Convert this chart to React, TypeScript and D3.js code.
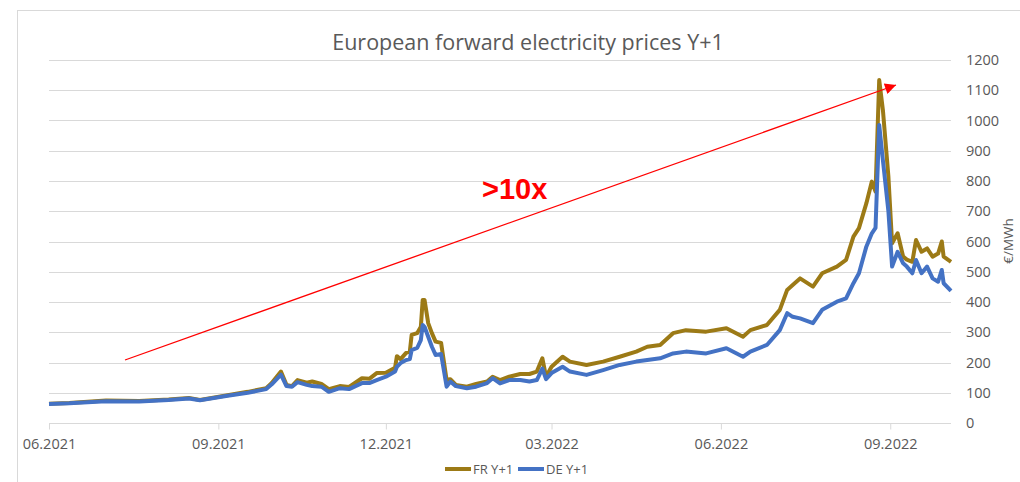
import React, { useEffect, useRef } from "react";
import * as d3 from "d3";

// dates of the readings (daily-ish where the curve moves, sparser where flat)
const dates = [
  "2021-06-01", "2021-06-12", "2021-07-02", "2021-07-20", "2021-08-05", "2021-08-16", "2021-08-22",
  "2021-09-06", "2021-09-17", "2021-09-27", "2021-09-30", "2021-10-05", "2021-10-08", "2021-10-11",
  "2021-10-14", "2021-10-19", "2021-10-22", "2021-10-27", "2021-10-31", "2021-11-06", "2021-11-11",
  "2021-11-18", "2021-11-22", "2021-11-26", "2021-12-01", "2021-12-06", "2021-12-07", "2021-12-09",
  "2021-12-12", "2021-12-14", "2021-12-15", "2021-12-18", "2021-12-20", "2021-12-21", "2021-12-22",
  "2021-12-24", "2021-12-26", "2021-12-28", "2021-12-31", "2022-01-03", "2022-01-05", "2022-01-08",
  "2022-01-14", "2022-01-19", "2022-01-25", "2022-01-28", "2022-02-01", "2022-02-06", "2022-02-12",
  "2022-02-17", "2022-02-21", "2022-02-24", "2022-02-26", "2022-03-01", "2022-03-07", "2022-03-11",
  "2022-03-20", "2022-03-29", "2022-04-07", "2022-04-16", "2022-04-22", "2022-04-29", "2022-05-06",
  "2022-05-13", "2022-05-24", "2022-06-04", "2022-06-13", "2022-06-17", "2022-06-26", "2022-07-03",
  "2022-07-07", "2022-07-10", "2022-07-14", "2022-07-21", "2022-07-26", "2022-08-03", "2022-08-08",
  "2022-08-12", "2022-08-15", "2022-08-19", "2022-08-22", "2022-08-24", "2022-08-26", "2022-08-28",
  "2022-08-31", "2022-09-02", "2022-09-05", "2022-09-08", "2022-09-10", "2022-09-13", "2022-09-15",
  "2022-09-18", "2022-09-21", "2022-09-24", "2022-09-27", "2022-09-29", "2022-09-30", "2022-10-04",
];

const frY1 = [
  64, 66, 74, 73, 78, 83, 76,
  92, 103, 115, 132, 170, 126, 122,
  142, 133, 137, 129, 112, 122, 119,
  148, 146, 165, 166, 183, 221, 211,
  232, 236, 291, 297, 318, 407, 407,
  330, 297, 269, 265, 142, 145, 126,
  120, 129, 137, 153, 142, 153, 162,
  162, 170, 214, 153, 186, 219, 203,
  192, 203, 219, 236, 252, 258, 297,
  307, 302, 313, 285, 307, 324, 374,
  440, 456, 478, 451, 495, 517, 539,
  616, 644, 726, 798, 765, 1134, 1035,
  814, 594, 627, 550, 540, 533, 605,
  566, 577, 550, 560, 600, 550, 533,
];

const deY1 = [
  63, 65, 72, 71, 76, 81, 75,
  90, 100, 112, 128, 160, 122, 120,
  135, 126, 122, 120, 103, 115, 112,
  132, 132, 142, 153, 170, 186, 198,
  208, 211, 241, 248, 274, 324, 318,
  285, 252, 225, 228, 120, 137, 122,
  115, 120, 132, 148, 131, 142, 142,
  137, 142, 180, 145, 165, 186, 170,
  159, 175, 192, 203, 208, 214, 230,
  236, 230, 247, 219, 236, 258, 307,
  363, 351, 346, 330, 374, 401, 412,
  462, 495, 583, 627, 645, 985, 869,
  700, 517, 566, 528, 517, 495, 539,
  495, 517, 478, 467, 506, 462, 437,
];

const tickDates = ["2021-06-01", "2021-09-01", "2021-12-01", "2022-03-01", "2022-06-01", "2022-09-01"];
const yTicks = [0, 100, 200, 300, 400, 500, 600, 700, 800, 900, 1000, 1100, 1200];

const FONT = "'Open Sans', 'Liberation Sans', sans-serif";

export default function App() {
  const ref = useRef<SVGSVGElement | null>(null);

  useEffect(() => {
    const width = 1020;
    const height = 482;
    const plot = { left: 49, right: 951, top: 60, bottom: 423 };

    const parse = d3.timeParse("%Y-%m-%d");
    const svg = d3.select(ref.current);
    svg.selectAll("*").remove();

    const x = d3.scaleTime()
      .domain([parse("2021-06-01")!, parse("2022-10-04")!])
      .range([plot.left, plot.right]);
    const y = d3.scaleLinear().domain([0, 1200]).range([plot.bottom, plot.top]);

    // chart area frame (runs off the right and bottom)
    svg.append("rect")
      .attr("x", 17.5).attr("y", 10.5)
      .attr("width", 1100).attr("height", 600)
      .attr("fill", "#fff").attr("stroke", "#d9d9d9");

    svg.append("text")
      .attr("x", 528).attr("y", 50)
      .attr("text-anchor", "middle")
      .attr("font-family", FONT).attr("font-size", 21.5)
      .attr("fill", "#595959")
      .text("European forward electricity prices Y+1");

    // gridlines
    svg.append("g").selectAll("line")
      .data(yTicks.filter(d => d > 0))
      .join("line")
      .attr("x1", plot.left).attr("x2", plot.right)
      .attr("y1", d => Math.round(y(d)) + 0.5).attr("y2", d => Math.round(y(d)) + 0.5)
      .attr("stroke", "#d9d9d9").attr("stroke-width", 1.2);

    // right value axis (labels only)
    svg.append("g").selectAll("text")
      .data(yTicks)
      .join("text")
      .attr("x", 966).attr("y", d => y(d) + 5)
      .attr("font-family", FONT).attr("font-size", 14.5)
      .attr("fill", "#595959")
      .text(d => d);

    svg.append("text")
      .attr("transform", `translate(1013, 241) rotate(-90)`)
      .attr("text-anchor", "middle")
      .attr("font-family", FONT).attr("font-size", 13.5)
      .attr("fill", "#595959")
      .text("€/MWh");

    // date axis
    const xAxis = d3.axisBottom(x)
      .tickValues(tickDates.map(d => parse(d)!))
      .tickFormat(d => d3.timeFormat("%m.%Y")(d as Date))
      .tickSize(6)
      .tickPadding(9);
    const ax = svg.append("g")
      .attr("transform", `translate(0, ${plot.bottom + 0.5})`)
      .call(xAxis);
    ax.select(".domain").attr("stroke", "#d9d9d9").attr("stroke-width", 1.2)
      .attr("d", `M${plot.left},0H${plot.right}`);
    ax.selectAll(".tick line").attr("stroke", "#d9d9d9");
    ax.selectAll(".tick text")
      .attr("font-family", FONT).attr("font-size", 14.5)
      .attr("fill", "#595959");

    const rows = dates.map((d, i) => ({ date: parse(d)!, fr: frY1[i], de: deY1[i] }));

    const frLine = d3.line<{ date: Date; fr: number; de: number }>()
      .x(d => x(d.date)).y(d => y(d.fr));
    const deLine = d3.line<{ date: Date; fr: number; de: number }>()
      .x(d => x(d.date)).y(d => y(d.de));

    svg.append("path").datum(rows)
      .attr("d", frLine)
      .attr("fill", "none").attr("stroke", "#9C7A16")
      .attr("stroke-width", 4).attr("stroke-linejoin", "round");
    svg.append("path").datum(rows)
      .attr("d", deLine)
      .attr("fill", "none").attr("stroke", "#4472C4")
      .attr("stroke-width", 4).attr("stroke-linejoin", "round");

    // legend
    const legend = [
      { name: "FR Y+1", color: "#9C7A16", x: 445 },
      { name: "DE Y+1", color: "#4472C4", x: 518 },
    ];
    const lg = svg.append("g").selectAll("g").data(legend).join("g")
      .attr("transform", d => `translate(${d.x}, 469)`);
    lg.append("line").attr("x1", 0).attr("x2", 26)
      .attr("stroke", d => d.color).attr("stroke-width", 4);
    lg.append("text").attr("x", 28).attr("y", 5)
      .attr("font-family", FONT).attr("font-size", 13)
      .attr("fill", "#595959").text(d => d.name);

    // annotation arrow + label
    const defs = svg.append("defs");
    defs.append("marker")
      .attr("id", "arrowhead")
      .attr("viewBox", "0 0 10 10")
      .attr("refX", 10).attr("refY", 5)
      .attr("markerWidth", 13).attr("markerHeight", 11)
      .attr("markerUnits", "userSpaceOnUse")
      .attr("orient", "auto")
      .append("path").attr("d", "M0,0L10,5L0,10Z").attr("fill", "#ff0000");

    svg.append("line")
      .attr("x1", 125).attr("y1", 360)
      .attr("x2", 896).attr("y2", 85)
      .attr("stroke", "#ff0000").attr("stroke-width", 1.3)
      .attr("marker-end", "url(#arrowhead)");

    svg.append("text")
      .attr("x", 482).attr("y", 199)
      .attr("font-family", "'Liberation Sans', Arial, sans-serif")
      .attr("font-weight", "bold").attr("font-size", 29)
      .attr("fill", "#ff0000")
      .text(">10x");

    svg.attr("width", width).attr("height", height);
  }, []);

  return (
    <svg ref={ref} width={1020} height={482}
      style={{ position: "absolute", left: 0, top: 0, background: "#fff" }} />
  );
}
